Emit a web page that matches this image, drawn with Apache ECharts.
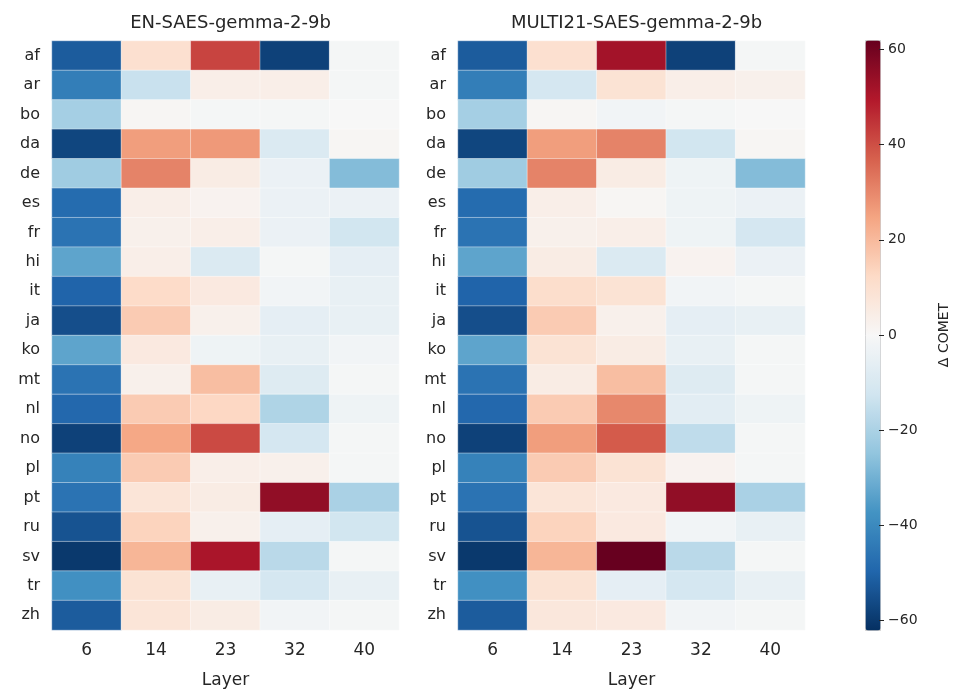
<!DOCTYPE html>
<html>
<head>
<meta charset="utf-8">
<script src="https://cdn.jsdelivr.net/npm/echarts@6/dist/echarts.min.js"></script>
<style>
  html, body { margin: 0; padding: 0; background: #fff; }
  #chart { width: 957px; height: 698px; }
</style>
</head>
<body>
<div id="chart"></div>
<script>
// languages (rows, top to bottom) and layers (columns)
const langs = ['af', 'ar', 'bo', 'da', 'de', 'es', 'fr', 'hi', 'it', 'ja',
  'ko', 'mt', 'nl', 'no', 'pl', 'pt', 'ru', 'sv', 'tr', 'zh'];
const layers = ['6', '14', '23', '32', '40'];

// Δ COMET per language, one value per layer
const enSaes = [
  [-52, 10, 42, -58, -1],
  [-43, -14, 4, 4, -1],
  [-21, 1, -1, -1, 0],
  [-57, 26, 27, -9, 1],
  [-22, 31, 5, -4, -27],
  [-48, 4, 2, -4, -4],
  [-46, 3, 4, -4, -12],
  [-33, 4, -9, -1, -6],
  [-50, 12, 6, -2, -5],
  [-55, 16, 3, -6, -5],
  [-33, 6, -3, -5, -2],
  [-46, 3, 19, -8, -1],
  [-49, 16, 13, -19, -3],
  [-58, 24, 41, -11, -1],
  [-42, 16, 4, 3, -1],
  [-46, 8, 5, 55, -20],
  [-54, 14, 3, -6, -12],
  [-60, 21, 51, -17, -1],
  [-38, 9, -5, -11, -5],
  [-52, 8, 5, -2, -1]
];
const multiSaes = [
  [-52, 10, 52, -58, -1],
  [-43, -11, 9, 4, 3],
  [-21, 1, -2, -1, 0],
  [-57, 26, 31, -12, 1],
  [-22, 31, 5, -3, -27],
  [-48, 4, 1, -3, -4],
  [-46, 3, 4, -3, -11],
  [-33, 5, -9, 2, -4],
  [-50, 11, 9, -2, -1],
  [-55, 16, 3, -6, -5],
  [-33, 9, 5, -5, -1],
  [-46, 5, 19, -8, -1],
  [-49, 16, 30, -7, -3],
  [-58, 26, 38, -16, -1],
  [-42, 16, 9, 2, -1],
  [-46, 8, 6, 55, -20],
  [-54, 14, 6, -2, -5],
  [-60, 21, 62, -17, -1],
  [-38, 9, -6, -11, -5],
  [-52, 7, 6, -2, -1]
];
const panelTitles = ['EN-SAES-gemma-2-9b', 'MULTI21-SAES-gemma-2-9b'];
const cbarTicks = [-60, -40, -20, 0, 20, 40, 60];

const rdbu = ['#053061', '#2166ac', '#4393c3', '#92c5de', '#d1e5f0', '#f7f7f7',
  '#fddbc7', '#f4a582', '#d6604d', '#b2182b', '#67001f'];
const font = 'DejaVu Sans';
const textColor = '#262626';

function toCells(rows) {
  const out = [];
  rows.forEach((r, i) => r.forEach((v, j) => out.push([j, i, v])));
  return out;
}

const grids = [
  { left: 52, top: 41, width: 347, height: 589 },
  { left: 458, top: 41, width: 347, height: 589 },
  { left: 879, top: 40, width: 1, height: 590 }
];

const xAxes = [0, 1].map(g => ({
  type: 'category', gridIndex: g, data: layers,
  name: 'Layer', nameLocation: 'middle', nameGap: 42,
  nameTextStyle: { fontFamily: font, fontSize: 17, color: textColor },
  axisLine: { show: false }, axisTick: { show: false }, splitLine: { show: false },
  axisLabel: { fontFamily: font, fontSize: 17, color: textColor, margin: 12 }
}));
xAxes.push({ type: 'value', gridIndex: 2, show: false, min: 0, max: 1 });

const yAxes = [0, 1].map(g => ({
  type: 'category', gridIndex: g, data: langs, inverse: true,
  axisLine: { show: false }, axisTick: { show: false }, splitLine: { show: false },
  axisLabel: { fontFamily: font, fontSize: 16, color: textColor, margin: 12 }
}));
yAxes.push({
  type: 'value', gridIndex: 2, position: 'right', min: -62, max: 62,
  name: 'Δ COMET', nameLocation: 'middle', nameGap: 57, nameRotate: 90,
  nameTextStyle: { fontFamily: font, fontSize: 14, color: textColor },
  axisLine: { show: true, lineStyle: { color: 'rgba(0,0,0,0)' } },
  splitLine: { show: false },
  axisTick: { show: true, inside: false, length: 5, customValues: cbarTicks, lineStyle: { color: textColor, width: 1 } },
  axisLabel: {
    fontFamily: font, fontSize: 14, color: textColor, margin: 8, customValues: cbarTicks,
    formatter: v => String(v).replace('-', '\u2212')
  },
  z: 10
});

const titles = panelTitles.map((t, k) => ({
  text: t,
  left: grids[k].left + grids[k].width / 2,
  top: 9,
  textAlign: 'center',
  textStyle: { fontFamily: font, fontSize: 18, fontWeight: 'normal', color: textColor }
}));

const heatSeries = [enSaes, multiSaes].map((rows, k) => ({
  type: 'heatmap', xAxisIndex: k, yAxisIndex: k,
  data: toCells(rows),
  itemStyle: { borderColor: 'rgba(255,255,255,0.7)', borderWidth: 0.6 },
  emphasis: { disabled: true }
}));

const chart = echarts.init(document.getElementById('chart'), null, { renderer: 'canvas' });
chart.setOption({
  backgroundColor: '#ffffff',
  animation: false,
  title: titles,
  grid: grids,
  xAxis: xAxes,
  yAxis: yAxes,
  visualMap: {
    type: 'continuous', min: -62, max: 62,
    seriesIndex: [0, 1],
    orient: 'vertical', left: 865, top: 40,
    itemWidth: 15, itemHeight: 590,
    padding: 0, calculable: false, text: null, showLabel: false,
    borderColor: '#cccccc', borderWidth: 1,
    inRange: { color: rdbu }
  },
  series: heatSeries.concat([{ type: 'scatter', xAxisIndex: 2, yAxisIndex: 2, data: [] }])
});
</script>
</body>
</html>
